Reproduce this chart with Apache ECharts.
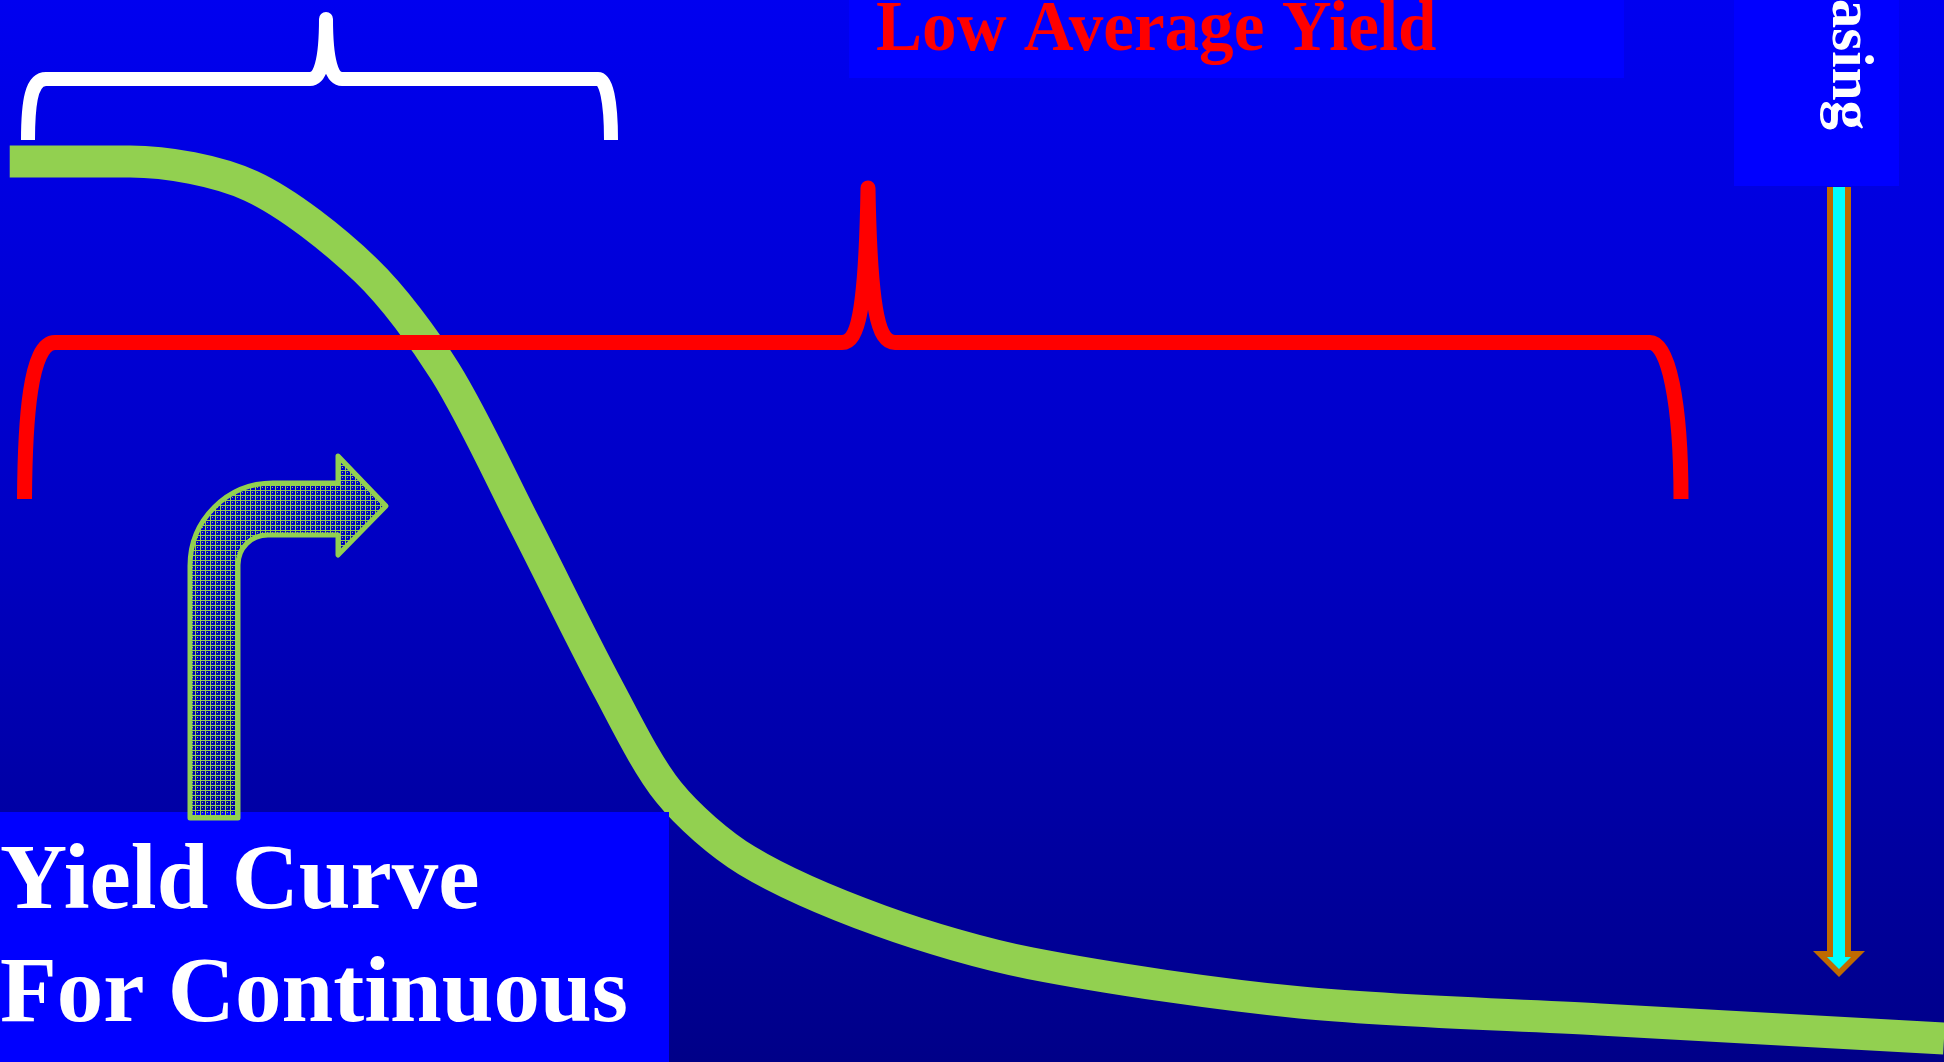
<!DOCTYPE html>
<html>
<head>
<meta charset="utf-8">
<script src="https://cdn.jsdelivr.net/npm/echarts/dist/echarts.min.js"></script>
<style>
  html, body { margin: 0; padding: 0; background: #0000c0; }
  #chart { width: 1944px; height: 1062px; }
</style>
</head>
<body>
<div id="chart"></div>
<script>
// Yield curve: relative maturity (0-100) against relative yield (0-100)
const maturity = [0.5, 6.7, 12.9, 18.8, 22.9, 27.0, 31.3, 34.4, 38.4, 45.3, 53.0, 66.9, 82.3, 100];
const yieldLevel = [84.8, 84.8, 82.5, 74.6, 65.0, 50.6, 35.1, 25.4, 19.0, 13.3, 9.3, 5.6, 4.0, 2.2];

// Captions on the slide
const captionTop = 'Low Average Yield';
const captionSide = 'Increasing';
const captionMain = ['Yield Curve', 'For Continuous'];

const W = 1944, H = 1062;
const GREEN = '#92D050';
const SERIF = '"Liberation Serif", "Times New Roman", serif';

// custom outline shapes (braces and bent arrow)
function registerOutline(name, d) {
  echarts.graphic.registerShape(name, echarts.graphic.extendPath(d, {}));
}
registerOutline('whiteBrace',
  'M 28 140 C 28 100 32 79 46 79 L 310 79 C 320 79 326 62 326 19 C 326 62 332 79 342 79 L 598 79 C 606 79 611 100 611 140');
registerOutline('redBrace',
  'M 24.5 499 C 25 420 30 342.5 55 342.5 L 842 342.5 C 858 342.5 866 310 868 188 C 870 310 878 342.5 895 342.5 L 1650 342.5 C 1668 342.5 1681 400 1681 499');
registerOutline('bentArrow',
  'M 190 818 L 190 566 C 190 520 227 483 273 483 L 338 483 L 338 456 L 386 506 L 338 555 L 338 535 L 268 535 C 251 535 238 548 238 565 L 238 818 Z');

// fine lattice used to fill the bent arrow
function latticePattern() {
  const c = document.createElement('canvas');
  c.width = 5; c.height = 5;
  const ctx = c.getContext('2d');
  ctx.fillStyle = GREEN;
  for (let x = 0; x < 5; x++) {
    for (let y = 0; y < 5; y++) {
      if (x === 0 || y === 0 || (x === 2 && y === 2)) ctx.fillRect(x, y, 1, 1);
    }
  }
  return { image: c, repeat: 'repeat' };
}

const chart = echarts.init(document.getElementById('chart'), null, { renderer: 'canvas' });

const curveData = maturity.map((m, i) => [m, yieldLevel[i]]);

chart.setOption({
  animation: false,
  grid: { left: 0, right: 0, top: 0, bottom: 0, containLabel: false },
  xAxis: { type: 'value', min: 0, max: 100, show: false },
  yAxis: { type: 'value', min: 0, max: 100, show: false },
  series: [{
    type: 'line',
    data: curveData,
    smooth: 0.3,
    symbol: 'none',
    z: 2,
    lineStyle: { color: GREEN, width: 32, cap: 'butt', join: 'round' }
  }],
  graphic: [
    // slide background
    {
      type: 'rect', z: -10, silent: true,
      shape: { x: 0, y: 0, width: W, height: H },
      style: {
        fill: new echarts.graphic.LinearGradient(0, 0, 0, 1, [
          { offset: 0, color: '#0000F0' },
          { offset: 0.5, color: '#0000C4' },
          { offset: 1, color: '#000088' }
        ])
      }
    },
    // white brace over the flat front end
    {
      type: 'whiteBrace', z: 10, silent: true,
      style: { fill: null, stroke: '#FFFFFF', lineWidth: 14, lineJoin: 'round', lineCap: 'butt' }
    },
    // red brace across the whole range
    {
      type: 'redBrace', z: 10, silent: true,
      style: { fill: null, stroke: '#FF0000', lineWidth: 15, lineJoin: 'round', lineCap: 'butt' }
    },
    // caption box: low average yield
    {
      type: 'rect', z: 10, silent: true,
      shape: { x: 849, y: 0, width: 775, height: 78 },
      style: { fill: '#0000FF' }
    },
    {
      type: 'text', z: 11, silent: true, x: 876, y: 31, scaleX: 0.96,
      style: {
        text: captionTop, fill: '#FF0000', font: 'bold 72px ' + SERIF,
        align: 'left', verticalAlign: 'middle', textAlign: 'left', textVerticalAlign: 'middle'
      }
    },
    // side caption box with vertical text
    {
      type: 'rect', z: 10, silent: true,
      shape: { x: 1734, y: 0, width: 165, height: 186 },
      style: { fill: '#0000FF' }
    },
    {
      type: 'text', z: 11, silent: true, x: 1848, y: 130, rotation: -Math.PI / 2,
      style: {
        text: captionSide, fill: '#FFFFFF', font: 'bold 59px ' + SERIF,
        align: 'right', verticalAlign: 'middle', textAlign: 'right', textVerticalAlign: 'middle'
      }
    },
    // downward arrow (orange rim, cyan core)
    {
      type: 'polygon', z: 10, silent: true,
      shape: { points: [[1827, 187], [1851, 187], [1851, 951], [1865, 951], [1839, 977], [1813, 951], [1827, 951]] },
      style: { fill: '#BF6A00' }
    },
    {
      type: 'polygon', z: 11, silent: true,
      shape: { points: [[1833, 187], [1845, 187], [1845, 957], [1851, 957], [1839, 969], [1827, 957], [1833, 957]] },
      style: { fill: '#00FFFF' }
    },
    // main caption box
    {
      type: 'rect', z: 10, silent: true,
      shape: { x: 0, y: 812, width: 669, height: 250 },
      style: { fill: '#0000FF' }
    },
    {
      type: 'text', z: 11, silent: true, x: 0, y: 884,
      style: {
        text: captionMain[0], fill: '#FFFFFF', font: 'bold 93px ' + SERIF,
        align: 'left', verticalAlign: 'middle', textAlign: 'left', textVerticalAlign: 'middle'
      }
    },
    {
      type: 'text', z: 11, silent: true, x: 0, y: 997,
      style: {
        text: captionMain[1], fill: '#FFFFFF', font: 'bold 93px ' + SERIF,
        align: 'left', verticalAlign: 'middle', textAlign: 'left', textVerticalAlign: 'middle'
      }
    },
    // bent arrow pointing into the curve
    {
      type: 'bentArrow', z: 12, silent: true,
      style: { fill: latticePattern(), stroke: GREEN, lineWidth: 5, lineJoin: 'round' }
    }
  ]
});
</script>
</body>
</html>
